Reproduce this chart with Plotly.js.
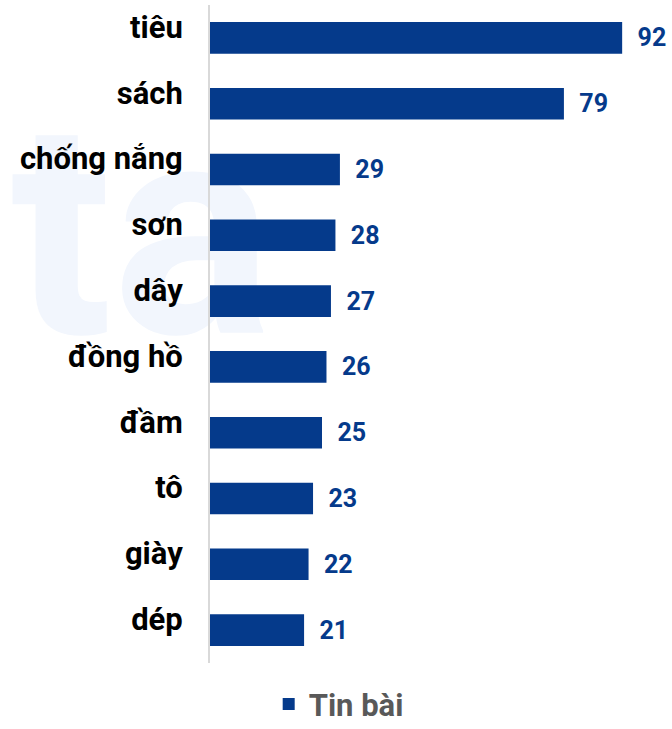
<!DOCTYPE html>
<html>
<head>
<meta charset="utf-8">
<script src="https://cdn.plot.ly/plotly-3.0.1.min.js"></script>
<style>html,body{margin:0;padding:0;background:#fff;}#chart{width:672px;height:729px;}</style>
</head>
<body>
<div id="chart"></div>
<script>
var categories = ["tiêu", "sách", "chống nắng", "sơn", "dây", "đồng hồ", "đầm", "tô", "giày", "dép"];
var values = [92, 79, 29, 28, 27, 26, 25, 23, 22, 21];
var seriesName = "Tin bài";
var watermark = "ta";

var barColor = "#053a8b";
var font = {family: "Roboto, 'Noto Sans', sans-serif", weight: 700};

var data = [{
  type: "bar",
  orientation: "h",
  name: seriesName,
  y: categories,
  x: values,
  text: values.map(function(v){ return "\u00a0\u00a0" + v; }),
  textposition: "outside",
  textfont: {family: font.family, weight: 700, size: 25, color: barColor},
  cliponaxis: false,
  marker: {color: barColor},
  hoverinfo: "x+y"
}];

var layout = {
  width: 672,
  height: 729,
  margin: {l: 210, r: 14, t: 5, b: 66, autoexpand: false},
  paper_bgcolor: "#ffffff",
  plot_bgcolor: "rgba(0,0,0,0)",
  bargap: 0.52,
  showlegend: true,
  legend: {
    orientation: "h",
    x: 0.131, xanchor: "left",
    y: -0.104, yanchor: "bottom",
    font: {family: font.family, weight: 700, size: 31, color: "#595959"}
  },
  xaxis: {
    range: [0, 100],
    showgrid: false, zeroline: false, showline: false,
    showticklabels: false, ticks: ""
  },
  yaxis: {
    type: "category",
    autorange: "reversed",
    showgrid: false, zeroline: false,
    showline: true, linecolor: "#d9d9d9", linewidth: 2,
    ticks: "",
    ticklabelstandoff: 19,
    ticklabelshift: 11,
    tickfont: {family: font.family, weight: 700, size: 31, color: "#000000"}
  },
  shapes: [{
    type: "rect", xref: "paper", yref: "paper", layer: "below",
    x0: -0.452, x1: 0.148, y0: 0.491, y1: 0.891,
    line: {width: 0}, fillcolor: "rgba(0,0,0,0)",
    label: {text: watermark, textposition: "middle center",
      font: {family: font.family, weight: 700, size: 300, color: "#f2f6fd"}}
  }]
};

Plotly.newPlot("chart", data, layout, {displayModeBar: false, staticPlot: true});
</script>
</body>
</html>
